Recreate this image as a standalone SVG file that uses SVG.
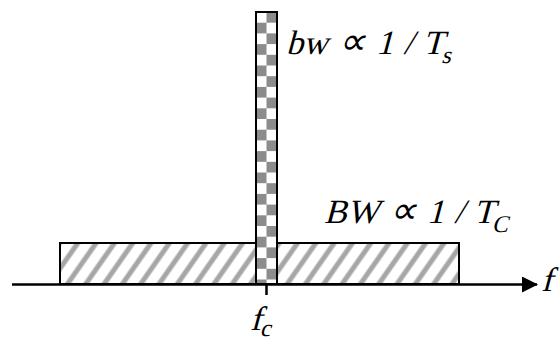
<svg xmlns="http://www.w3.org/2000/svg" width="559" height="343" viewBox="0 0 559 343">
  <style>
    text { font-family: "Liberation Serif", "Times New Roman", serif; font-size: 34px; fill: #000; }
    .eq { word-spacing: 2px; }
    .sub { font-size: 24px; }
    .prop { font-size: 38px; }
    .edge { stroke: #000; stroke-width: 2; }
  </style>
  <defs>
    <pattern id="hatch" patternUnits="userSpaceOnUse" width="15" height="15" patternTransform="translate(60,0) rotate(35)">
      <rect width="15" height="15" fill="#fff"/>
      <line x1="4" y1="-2" x2="4" y2="17" stroke="#a6a6a6" stroke-width="5"/>
    </pattern>
    <pattern id="checker" patternUnits="userSpaceOnUse" x="256" y="12" width="21" height="21.4">
      <rect width="21" height="21.4" fill="#fff"/>
      <rect x="10.5" y="0" width="10.5" height="10.7" fill="#8c8c8c"/>
      <rect x="0" y="10.7" width="10.5" height="10.7" fill="#8c8c8c"/>
    </pattern>
    <marker id="arrow" markerUnits="userSpaceOnUse" markerWidth="16" markerHeight="16" refX="15" refY="8" orient="auto">
      <path d="M0,0 L16,8 L0,16 Z" fill="#000"/>
    </marker>
  </defs>

  <g id="wide-band">
    <rect x="60" y="243" width="399" height="41" fill="url(#hatch)" class="edge"/>
  </g>

  <g id="narrow-band">
    <rect x="256" y="12" width="21" height="272" fill="url(#checker)" class="edge"/>
  </g>

  <g id="connectors">
    <line x1="12" y1="284.5" x2="537" y2="284.5" stroke="#000" stroke-width="2.5" marker-end="url(#arrow)"/>
    <line x1="266.5" y1="285" x2="266.5" y2="295" stroke="#000" stroke-width="2.5"/>
  </g>

  <g id="label-bw">
    <text class="eq" transform="translate(286,54) skewX(-15)">bw <tspan class="prop">∝</tspan> 1 / T<tspan class="sub" dy="9">s</tspan></text>
  </g>
  <g id="label-BW">
    <text class="eq" transform="translate(324,223) skewX(-15)">BW <tspan class="prop">∝</tspan> 1 / T<tspan class="sub" dy="9">C</tspan></text>
  </g>
  <g id="label-f">
    <text transform="translate(541,291) skewX(-15)">f</text>
  </g>
  <g id="label-fc">
    <text transform="translate(250,330) skewX(-15)">f<tspan class="sub" dy="6">c</tspan></text>
  </g>
</svg>
